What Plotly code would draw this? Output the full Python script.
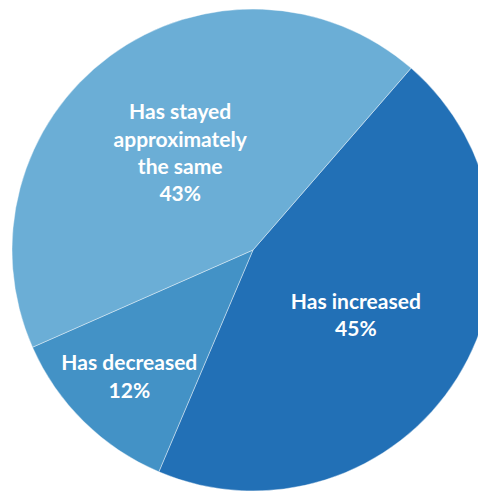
import plotly.graph_objects as go

labels = ["Has increased", "Has decreased", "Has stayed<br>approximately<br>the same"]
values = [45, 12, 43]
colors = ["#2270B6", "#4392C6", "#6BAED6"]

fig = go.Figure(go.Pie(
    labels=labels,
    values=values,
    sort=False,
    direction="clockwise",
    rotation=41,
    marker=dict(colors=colors, line=dict(color="rgba(255,255,255,0.5)", width=0.8)),
    texttemplate="%{label}<br>%{percent:.0%}",
    textposition="inside",
    insidetextorientation="horizontal",
    textfont=dict(family="Lato", size=21, color="white", weight="bold"),
    hoverinfo="skip",
    domain=dict(x=[4/486, 1], y=[9/492, 491/492]),
    showlegend=False,
))
fig.update_layout(
    width=486, height=492,
    margin=dict(l=0, r=0, t=0, b=0),
    paper_bgcolor="white",
    uniformtext=dict(minsize=21, mode="show"),
)
fig.write_html("out.html")
